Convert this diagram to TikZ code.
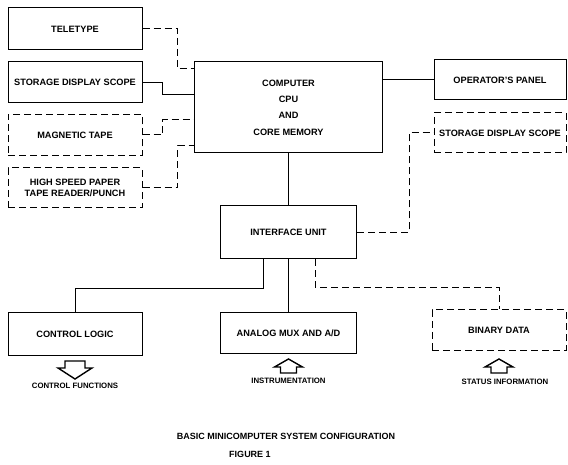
\documentclass[tikz,border=0pt]{standalone}
\usepackage{fontspec}
\setmainfont{Liberation Sans}
\usetikzlibrary{positioning, calc}

\tikzset{
  unit/.style={draw, rectangle, line width=1pt, minimum width=134pt, minimum height=42pt,
    inner sep=0pt, align=center, font=\bfseries\fontsize{9.2}{11}\selectfont},
  optunit/.style={unit, dash pattern=on 7pt off 4pt},
  link/.style={line width=1pt},
  optlink/.style={link, dash pattern=on 7pt off 4pt},
  flow/.style={draw, line width=1.4pt, line join=miter},
  label/.style={font=\bfseries\fontsize{7.8}{9}\selectfont},
  caption/.style={font=\bfseries\fontsize{9}{10}\selectfont}
}

\begin{document}
\begin{tikzpicture}[x=1pt, y=-1pt]
\useasboundingbox (0,0) rectangle (568,465);

% peripherals
\node (tty) at (75,29) [unit] {TELETYPE};
\node (sds) at (75,82.5) [unit, minimum height=41pt] {STORAGE DISPLAY SCOPE};
\node (mt) at (75,135) [optunit, minimum height=41pt] {MAGNETIC TAPE};
\node (ptr) at (75,188) [optunit, minimum height=40pt] {HIGH SPEED PAPER\\TAPE READER/PUNCH};

% computer
\node (cpu) at (288.5,107.5) [unit, minimum width=188pt, minimum height=91pt]
  {COMPUTER\\[5.3pt]CPU\\[5.3pt]AND\\[5.3pt]CORE MEMORY};
\node (op) at (500,80) [unit, minimum width=132pt, minimum height=40pt] {OPERATOR'S PANEL};
\node (sds2) at (500,133) [optunit, minimum width=132pt, minimum height=40pt] {STORAGE DISPLAY SCOPE};

% interface and process side
\node (iu) at (288.5,232.5) [unit, minimum width=136pt, minimum height=53pt] {INTERFACE UNIT};
\node (cl) at (75,334) [unit] {CONTROL LOGIC};
\node (adc) at (288.5,333) [unit, minimum width=136pt, minimum height=40pt] {ANALOG MUX AND A/D};
\node (bd) at (499,330) [optunit, minimum height=40pt] {BINARY DATA};

\draw [optlink] (tty.east) -- ++(35,0) |- (cpu.west |- 0,69);
\draw [link] (sds.east) -- ++(20,0) |- (cpu.west |- 0,95);
\draw [optlink] (mt.east) -- ++(20,0) |- (cpu.west |- 0,120);
\draw [optlink] (ptr.east) -- ++(35,0) |- (cpu.west |- 0,146);
\draw [link] (cpu.east |- op.west) -- (op.west);
\draw [link] (cpu.south) -- (iu.north);
\draw [optlink] (iu.east) -- ++(52,0) |- (sds2.west);
\draw [link] (iu.south -| 263,0) -- ++(0,29) -| (cl.north);
\draw [link] (iu.south) -- (adc.north);
\draw [optlink] (iu.south -| 315,0) -- ++(0,28) -| (bd.north);

% block arrows
\draw [flow] (65,361) -- (85,361) -- (85,368) -- (92,368) -- (75,379) -- (58,368) -- (65,368) -- cycle;
\draw [flow] (288.5,359) -- (302.5,367) -- (296.5,367) -- (296.5,373) -- (280.5,373) -- (280.5,367) -- (274.5,367) -- cycle;
\draw [flow] (499,359) -- (513,367) -- (507,367) -- (507,373) -- (491,373) -- (491,367) -- (485,367) -- cycle;

\node (cf) at (75,386) [label] {CONTROL FUNCTIONS};
\node (inst) at (288.5,381) [label] {INSTRUMENTATION};
\node (stat) at (505,382) [label] {STATUS INFORMATION};

\node (title) at (286,436) [caption] {BASIC MINICOMPUTER SYSTEM CONFIGURATION};
\node (fig) at (250,454) [caption] {FIGURE 1};
\end{tikzpicture}
\end{document}
